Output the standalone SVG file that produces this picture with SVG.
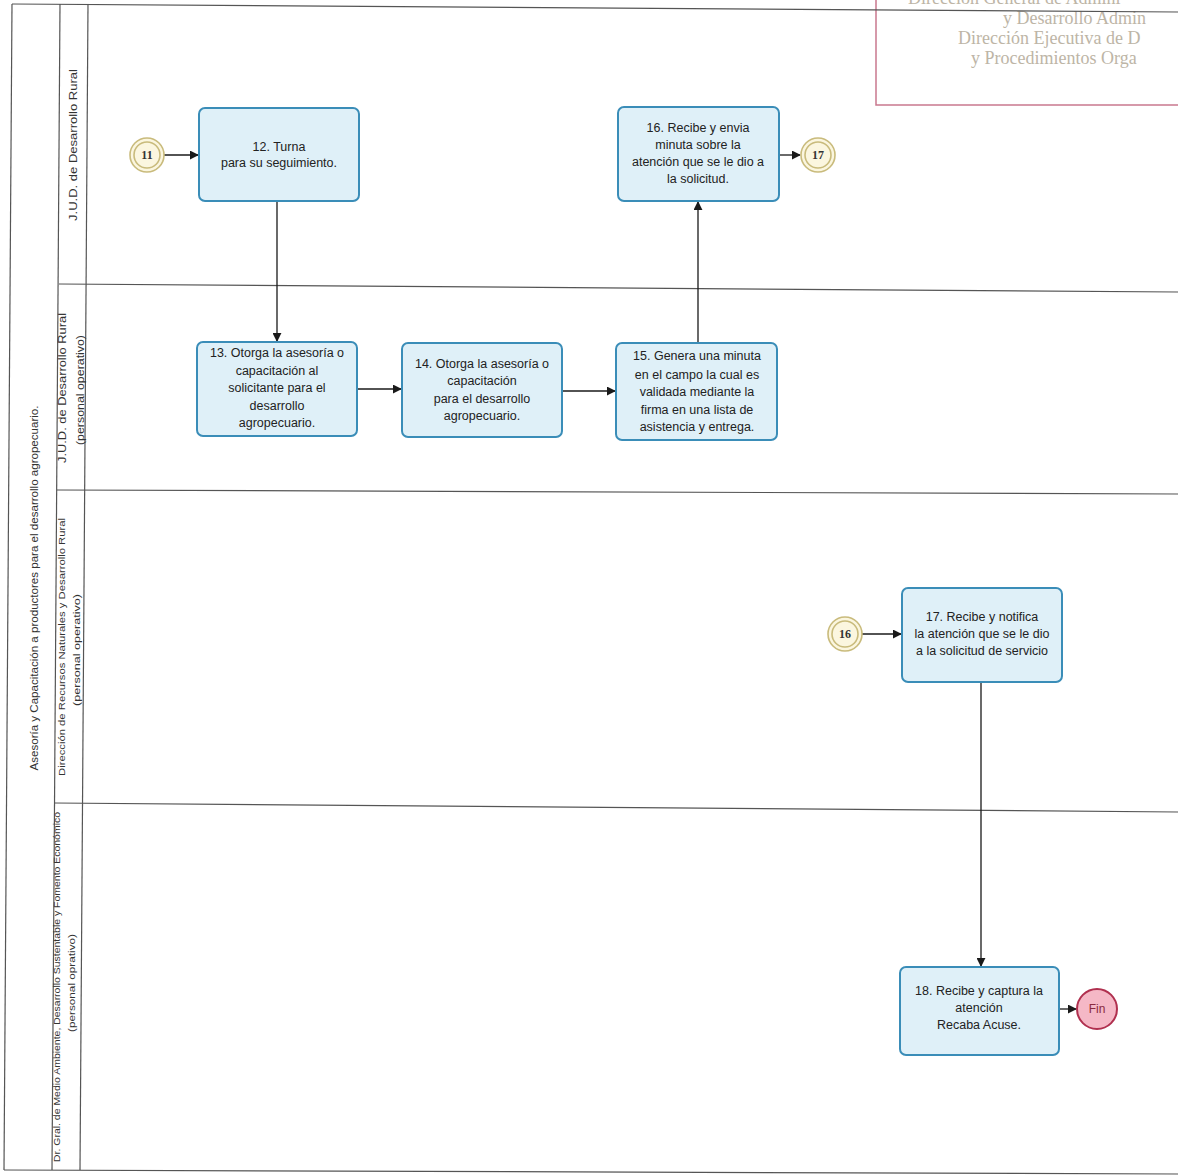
<svg xmlns="http://www.w3.org/2000/svg" width="1178" height="1176" viewBox="0 0 1178 1176">
<defs>
<marker id="ah" viewBox="0 0 10 10" refX="9" refY="5" markerWidth="9" markerHeight="9" markerUnits="userSpaceOnUse" orient="auto">
<path d="M0,0 L10,5 L0,10 z" fill="#1a1a1a"/>
</marker>
<style>
.frame{stroke:#555;stroke-width:1.2;fill:none}
.box{fill:#dff0f8;stroke:#3a8db8;stroke-width:2}
.t{font-family:"Liberation Sans",Arial,sans-serif;font-size:12.5px;fill:#222;text-anchor:middle}
.lane{font-family:"Liberation Sans",Arial,sans-serif;font-size:10.5px;fill:#333;text-anchor:middle}
.lanes{font-family:"Liberation Sans",Arial,sans-serif;font-size:9.5px;fill:#333;text-anchor:middle}
.ev{fill:#fbf6df;stroke:#c9bb7c;stroke-width:1.6}
.evt{font-family:"Liberation Serif","Times New Roman",serif;font-size:12px;font-weight:bold;fill:#333;text-anchor:middle}
.con{stroke:#1a1a1a;stroke-width:1.3;fill:none;marker-end:url(#ah)}
.stamp{font-family:"Liberation Serif","Times New Roman",serif;font-size:18px;fill:#bdb5a6}
</style>
</defs>
<rect width="1178" height="1176" fill="#ffffff"/>
<g id="stamp">
<path d="M876,0 L876,105 L1178,105" fill="none" stroke="#c9788e" stroke-width="1.5"/>
<text class="stamp" x="908" y="4" font-size="16">Dirección General de Admini</text>
<text class="stamp" x="1003" y="24">y Desarrollo Admin</text>
<text class="stamp" x="958" y="44">Dirección Ejecutiva de D</text>
<text class="stamp" x="971" y="64">y Procedimientos Orga</text>
</g>
<g id="pool">
<path class="frame" d="M12,4 L1178,12"/>
<path class="frame" d="M12,4 L4,1170"/>
<path class="frame" d="M60,4 L52,1170"/>
<path class="frame" d="M88,4 L80,1170"/>
<path class="frame" d="M4,1170 L1178,1174"/>
<path class="frame" d="M59,284 L1178,292"/>
<path class="frame" d="M57,490 L1178,494"/>
<path class="frame" d="M54,803 L1178,812"/>
<text class="lane" transform="translate(38,588) rotate(-90)" textLength="365" lengthAdjust="spacingAndGlyphs">Asesoría y Capacitación a productores para el desarrollo agropecuario.</text>
<text class="lane" transform="translate(77,145) rotate(-90)" textLength="152" lengthAdjust="spacingAndGlyphs">J.U.D. de Desarrollo Rural</text>
<text class="lane" transform="translate(66,388) rotate(-90)" textLength="150" lengthAdjust="spacingAndGlyphs">J.U.D. de Desarrollo Rural</text>
<text class="lane" transform="translate(84,390) rotate(-90)" textLength="110" lengthAdjust="spacingAndGlyphs">(personal operativo)</text>
<text class="lanes" transform="translate(65,647) rotate(-90)" textLength="258" lengthAdjust="spacingAndGlyphs">Dirección de Recursos Naturales y Desarrollo Rural</text>
<text class="lanes" transform="translate(80,650) rotate(-90)" textLength="112" lengthAdjust="spacingAndGlyphs">(personal operativo)</text>
<text class="lanes" transform="translate(60,987) rotate(-90)" textLength="350" lengthAdjust="spacingAndGlyphs">Dr. Gral. de Medio Ambiente, Desarrollo Sustentable y Fomento Económico</text>
<text class="lanes" transform="translate(75,983) rotate(-90)" textLength="98" lengthAdjust="spacingAndGlyphs">(personal oprativo)</text>
</g>
<g id="connectors">
<path class="con" d="M164,155 L198,155"/>
<path class="con" d="M277,202 L277,341"/>
<path class="con" d="M357,389 L401,389"/>
<path class="con" d="M562,391 L615,391"/>
<path class="con" d="M698,343 L698,202"/>
<path class="con" d="M779,155 L800,155"/>
<path class="con" d="M862,634 L901,634"/>
<path class="con" d="M981,682 L981,966"/>
<path class="con" d="M1059,1009 L1076,1009"/>
</g>
<g id="n11">
<circle class="ev" cx="147" cy="155" r="17"/>
<circle class="ev" cx="147" cy="155" r="13"/>
<text class="evt" x="147" y="159">11</text>
</g>
<g id="n12">
<rect class="box" x="199" y="108" width="160" height="93" rx="6"/>
<text class="t" x="279" y="151">12. Turna</text>
<text class="t" x="279" y="167">para su seguimiento.</text>
</g>
<g id="n16">
<rect class="box" x="618" y="107" width="161" height="94" rx="6"/>
<text class="t" x="698" y="132">16. Recibe y envia</text>
<text class="t" x="698" y="149">minuta sobre la</text>
<text class="t" x="698" y="166">atención que se le dio a</text>
<text class="t" x="698" y="183">la solicitud.</text>
</g>
<g id="n17c">
<circle class="ev" cx="818" cy="155" r="17"/>
<circle class="ev" cx="818" cy="155" r="13"/>
<text class="evt" x="818" y="159">17</text>
</g>
<g id="n13">
<rect class="box" x="197" y="342" width="160" height="94" rx="6"/>
<text class="t" x="277" y="357">13. Otorga la asesoría o</text>
<text class="t" x="277" y="375">capacitación al</text>
<text class="t" x="277" y="392">solicitante para el</text>
<text class="t" x="277" y="410">desarrollo</text>
<text class="t" x="277" y="427">agropecuario.</text>
</g>
<g id="n14">
<rect class="box" x="402" y="343" width="160" height="94" rx="6"/>
<text class="t" x="482" y="368">14. Otorga la asesoría o</text>
<text class="t" x="482" y="385">capacitación</text>
<text class="t" x="482" y="403">para el desarrollo</text>
<text class="t" x="482" y="420">agropecuario.</text>
</g>
<g id="n15">
<rect class="box" x="616" y="343" width="161" height="97" rx="6"/>
<text class="t" x="697" y="360">15. Genera una minuta</text>
<text class="t" x="697" y="379">en el campo la cual es</text>
<text class="t" x="697" y="396">validada mediante la</text>
<text class="t" x="697" y="414">firma en una lista de</text>
<text class="t" x="697" y="431">asistencia y entrega.</text>
</g>
<g id="n16c">
<circle class="ev" cx="845" cy="634" r="17"/>
<circle class="ev" cx="845" cy="634" r="13"/>
<text class="evt" x="845" y="638">16</text>
</g>
<g id="n17">
<rect class="box" x="902" y="588" width="160" height="94" rx="6"/>
<text class="t" x="982" y="621">17. Recibe y notifica</text>
<text class="t" x="982" y="638">la atención que se le dio</text>
<text class="t" x="982" y="655">a la solicitud de servicio</text>
</g>
<g id="n18">
<rect class="box" x="900" y="967" width="159" height="88" rx="6"/>
<text class="t" x="979" y="995">18. Recibe y captura la</text>
<text class="t" x="979" y="1012">atención</text>
<text class="t" x="979" y="1029">Recaba Acuse.</text>
</g>
<g id="fin">
<circle cx="1097" cy="1009" r="20" fill="#f5b8c6" stroke="#b0304f" stroke-width="2"/>
<text x="1097" y="1013" font-family="Liberation Sans,Arial,sans-serif" font-size="12" fill="#8a2a3f" text-anchor="middle">Fin</text>
</g>
</svg>
